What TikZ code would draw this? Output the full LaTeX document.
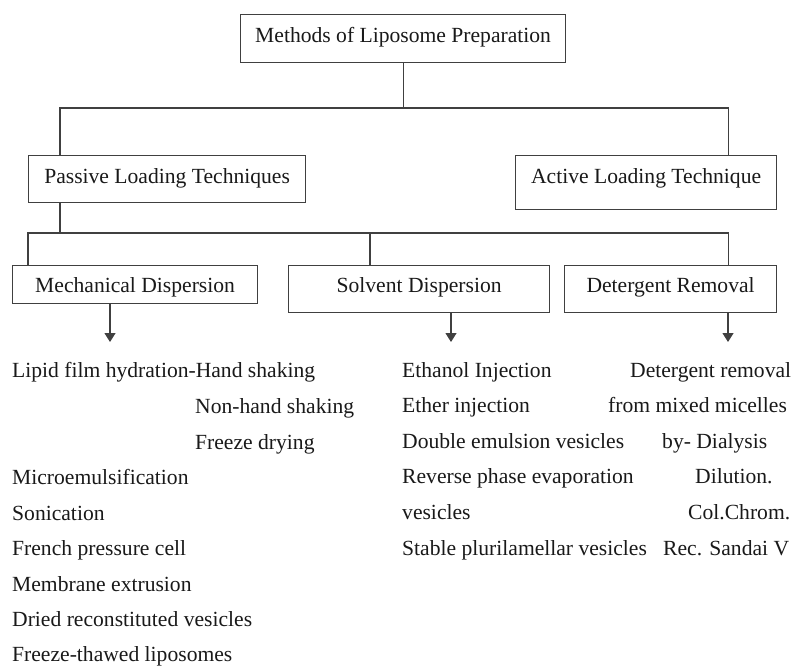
\documentclass[tikz,border=0pt]{standalone}
\usepackage{fontspec}
\setmainfont{Liberation Serif}
\usetikzlibrary{arrows.meta}

\begin{document}
\begin{tikzpicture} [x=1pt,y=-1pt,
  every node/.style={font=\fontsize{21.6}{26}\selectfont, text=black!90},
  box/.style={draw=black!75, line width=1.2pt, inner sep=0pt, text height=28pt, text depth=20pt, anchor=north west},
  link/.style={draw=black!75, line width=1.2pt},
  pointer/.style={link, -{Triangle[width=11pt,length=9pt]}},
  item/.style={inner sep=0pt, anchor=base west}]
  \useasboundingbox (0,0) rectangle (792,667);

  % boxes
  \node [box, minimum width=325pt] (methods) at (240,14) {Methods of Liposome Preparation};
  \node [box, minimum width=277pt, text depth=19pt] (passive) at (28,155) {Passive Loading Techniques};
  \node [box, minimum width=261pt, text depth=26pt] (active) at (515,155) {Active Loading Technique};
  \node [box, minimum width=245pt, text height=27pt, text depth=11pt] (mechbox) at (12,265) {Mechanical Dispersion};
  \node [box, minimum width=261pt, text height=27pt] (solvbox) at (288,265) {Solvent Dispersion};
  \node [box, minimum width=212pt, text height=27pt] (detbox) at (564,265) {Detergent Removal};

  % tree lines
  \coordinate (bus1) at (0,108);
  \coordinate (bus2) at (0,233);
  \coordinate (passdrop) at ([xshift=32pt]passive.north west);
  \coordinate (actdrop) at ([xshift=-49pt]active.north east);
  \draw [link] (methods.south) -- (methods.south |- bus1);
  \draw [link] (passdrop) |- (actdrop |- bus1) -- (actdrop);

  \coordinate (passout) at ([xshift=32pt]passive.south west);
  \coordinate (mechdrop) at ([xshift=16pt]mechbox.north west);
  \coordinate (solvdrop) at ([xshift=82pt]solvbox.north west);
  \coordinate (detdrop) at ([xshift=-49pt]detbox.north east);
  \draw [link] (passout) -- (passout |- bus2);
  \draw [link] (mechdrop) |- (detdrop |- bus2) -- (detdrop);
  \draw [link] (solvdrop) -- (solvdrop |- bus2);

  % arrows to the lists
  \coordinate (mechtip) at (110,342);
  \coordinate (solvtip) at (451,342);
  \coordinate (dettip) at (728,342);
  \draw [pointer] (mechtip |- mechbox.south) -- (mechtip);
  \draw [pointer] (solvtip |- solvbox.south) -- (solvtip);
  \draw [pointer] (dettip |- detbox.south) -- (dettip);

  % lists
  \foreach \x/\y/\txt [count=\i] in {12/377/Lipid film hydration-Hand shaking,
      195/413/Non-hand shaking, 195/449/Freeze drying, 12/484/Microemulsification,
      12/520/Sonication, 12/555/French pressure cell, 12/591/Membrane extrusion,
      12/626/Dried reconstituted vesicles, 12/661/Freeze-thawed liposomes}
    \node [item] (mechline\i) at (\x,\y) {\txt};

  \foreach \txt [count=\i] in {Ethanol Injection, Ether injection, Double emulsion vesicles,
      Reverse phase evaporation, vesicles, Stable plurilamellar vesicles}
    \node [item] (solvline\i) at (402,341.5+35.6*\i) {\txt};

  \foreach \x/\txt [count=\i] in {630/Detergent removal, 608/from mixed micelles,
      662/by- Dialysis, 695/Dilution., 688/Col.Chrom., 663/Rec. Sandai V}
    \node [item] (detline\i) at (\x,341.5+35.6*\i) {\txt};

\end{tikzpicture}
\end{document}
